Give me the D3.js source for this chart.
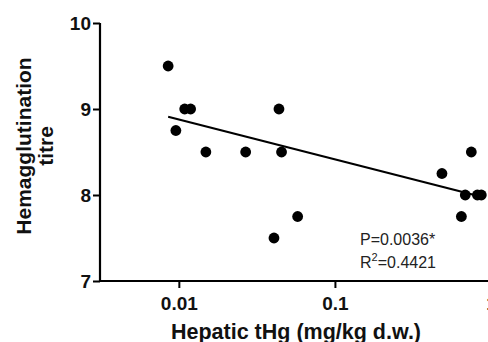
<!DOCTYPE html>
<html><head><meta charset="utf-8">
<script src="https://cdn.jsdelivr.net/npm/d3@7"></script>
<style>body{margin:0;background:#fff}svg{display:block}</style>
</head><body>
<script>
const hgValues = [0.00854, 0.0109, 0.0119, 0.00957, 0.0149, 0.0268, 0.0438, 0.0455, 0.0577, 0.0407, 0.485, 0.748, 0.684, 0.818, 0.867, 0.646];
const titreValues = [9.5, 9, 9, 8.75, 8.5, 8.5, 9, 8.5, 7.75, 7.5, 8.25, 8.5, 8, 8, 8, 7.75];
const fitX = [0.00854, 0.867];
const fitY = [8.91, 7.98];
const xTicks = [0.01, 0.1, 1];
const xTickLabels = ["0.01", "0.1", "1"];
const yTicks = [7, 8, 9, 10];
const statsLabels = ["P=0.0036*", "R=0.4421"];

const W = 488, H = 342;
const svg = d3.select("body").append("svg").attr("width", W).attr("height", H);
const x = d3.scaleLog().domain([0.003125, 1]).range([100, 491]);
const y = d3.scaleLinear().domain([7, 10]).range([281, 23]);
const font = "Liberation Sans, Arial, sans-serif";

// axes
const xAxis = svg.append("g").attr("transform", "translate(0,281)")
  .call(d3.axisBottom(x).tickValues(xTicks).tickFormat((d,i)=>xTickLabels[i]).tickSize(7).tickPadding(9).tickSizeOuter(0));
const yAxis = svg.append("g").attr("transform", "translate(100,0)")
  .call(d3.axisLeft(y).tickValues(yTicks).tickFormat(d3.format("d")).tickSize(7).tickPadding(2).tickSizeOuter(0));
[xAxis, yAxis].forEach(g => {
  g.select(".domain").attr("stroke", "#000").attr("stroke-width", 2.2);
  g.selectAll(".tick line").attr("stroke", "#000").attr("stroke-width", 2);
  g.selectAll(".tick text").attr("fill", "#111").attr("font-family", font).attr("font-weight", "bold").attr("font-size", 19);
});
xAxis.select(".domain").attr("d", "M99,0H" + W);
yAxis.select(".domain").attr("d", "M0,23V282");

// fit line
svg.append("path")
  .attr("d", d3.line().x(d=>x(d[0])).y(d=>y(d[1]))(fitX.map((v,i)=>[v, fitY[i]])))
  .attr("stroke", "#000").attr("stroke-width", 2.2).attr("fill", "none");

// points
svg.append("g").selectAll("circle").data(hgValues.map((v,i)=>[v, titreValues[i]])).join("circle")
  .attr("cx", d=>x(d[0])).attr("cy", d=>y(d[1])).attr("r", 5.4).attr("fill", "#000");

// stats
svg.append("text").attr("x", 360).attr("y", 245).attr("font-family", font).attr("font-size", 16).attr("fill", "#222").text(statsLabels[0]);
const r2 = svg.append("text").attr("x", 360).attr("y", 268).attr("font-family", font).attr("font-size", 16).attr("fill", "#222");
r2.append("tspan").text("R");
r2.append("tspan").attr("font-size", 11).attr("dy", -7).text("2");
r2.append("tspan").attr("dy", 7).text(statsLabels[1].slice(1));

// titles
svg.append("text").attr("x", 296).attr("y", 339).attr("text-anchor", "middle")
  .attr("font-family", font).attr("font-weight", "bold").attr("font-size", 21.5).attr("fill", "#111")
  .text("Hepatic tHg (mg/kg d.w.)");
const yt = svg.append("text").attr("transform", "translate(0,146) rotate(-90)").attr("text-anchor", "middle")
  .attr("font-family", font).attr("font-weight", "bold").attr("font-size", 21).attr("fill", "#111");
yt.append("tspan").attr("x", 0).attr("y", 31).text("Hemagglutination");
yt.append("tspan").attr("x", 0).attr("y", 53).text("titre");
</script>
</body></html>
